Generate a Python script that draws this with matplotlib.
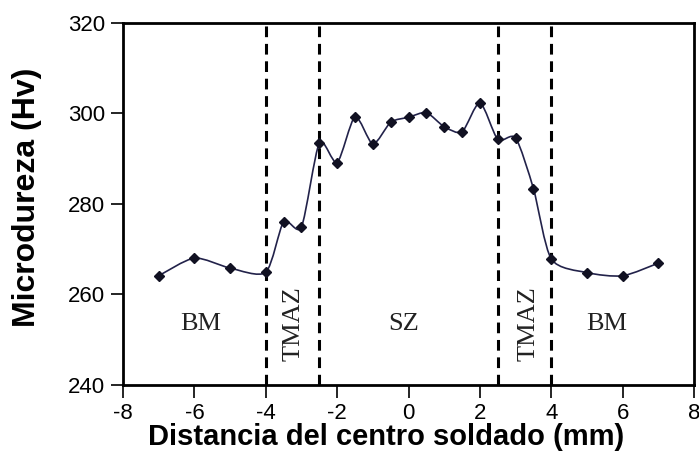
import matplotlib.pyplot as plt
from matplotlib.path import Path
from matplotlib.patches import PathPatch
import numpy as np

# Perfil de microdureza a traves de la soldadura
distancia = [-7, -6, -5, -4, -3.5, -3, -2.5, -2, -1.5, -1, -0.5, 0, 0.5,
             1, 1.5, 2, 2.5, 3, 3.5, 4, 5, 6, 7]
dureza = [264.1, 268.0, 265.8, 264.9, 276.0, 274.9, 293.4, 289.1, 299.2,
          293.2, 298.0, 299.1, 300.1, 297.0, 295.9, 302.3, 294.2, 294.5,
          283.3, 267.8, 264.8, 264.1, 266.9]

# limites entre zonas
limites = [-4, -2.5, 2.5, 4]
zonas = ['BM', 'TMAZ', 'SZ', 'TMAZ', 'BM']
zonas_x = [-5.83, -3.23, -0.14, 3.36, 5.55]
zonas_rot = [0, 90, 0, 90, 0]

xticks = np.arange(-8, 9, 2)
yticks = np.arange(240, 321, 20)


def curva_suave(x, y, k=8.0):
    # curva bezier tipo catmull-rom que pasa por todos los puntos
    pts = np.column_stack([x, y])
    n = len(pts)
    verts = [pts[0]]
    codes = [Path.MOVETO]
    for i in range(n - 1):
        p0 = pts[max(i - 1, 0)]
        p1 = pts[i]
        p2 = pts[i + 1]
        p3 = pts[min(i + 2, n - 1)]
        c1 = p1 + (p2 - p0) / k
        c2 = p2 - (p3 - p1) / k
        verts += [c1, c2, p2]
        codes += [Path.CURVE4] * 3
    return Path(verts, codes)


fig = plt.figure(figsize=(6.99, 4.61), dpi=100)
ax = fig.add_axes([0.176, 0.165, 0.817, 0.786])

for xl in limites:
    ax.axvline(xl, color='black', lw=2.2, ls=(0, (3.5, 2.2)), zorder=1)

ax.add_patch(PathPatch(curva_suave(distancia, dureza), fill=False,
                       edgecolor='#22224a', lw=1.2, zorder=2))
ax.plot(distancia, dureza, ls='none', marker='D', ms=5.5, color='#111122',
        zorder=3)

for txt, xz, rot in zip(zonas, zonas_x, zonas_rot):
    ax.text(xz, 253.5, txt, ha='center', va='center', rotation=rot,
            family='Liberation Serif', fontsize=19, color='#222222')

ax.set_xlim(-8, 8)
ax.set_ylim(240, 320)
ax.set_xticks(xticks)
ax.set_xticklabels([str(v) for v in xticks])
ax.set_yticks(yticks)
ax.set_yticklabels([str(v) for v in yticks])
ax.tick_params(direction='out', length=9, width=1.2, labelsize=16,
               pad=4)
for lab in ax.get_xticklabels() + ax.get_yticklabels():
    lab.set_family('Liberation Sans')
for sp in ax.spines.values():
    sp.set_linewidth(2)

ax.set_xlabel('Distancia del centro soldado (mm)', family='Liberation Sans',
              fontweight='bold', fontsize=21)
ax.set_ylabel('Microdureza (Hv)', family='Liberation Sans',
              fontweight='bold', fontsize=23)
ax.xaxis.set_label_coords(0.46, -0.105)
ax.yaxis.set_label_coords(-0.142, 0.519)

fig.savefig('out.png', dpi=100)
